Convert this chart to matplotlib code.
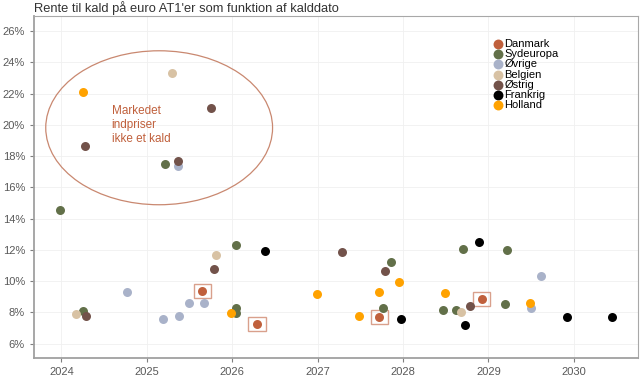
import matplotlib
matplotlib.use("Agg")
import matplotlib.pyplot as plt
from matplotlib.patches import Ellipse, Rectangle

plt.rcParams['font.family'] = ['Liberation Sans', 'DejaVu Sans']

# Data: call date (fractional year) and yield to call (%)
danmark_x = [2025.65, 2026.29, 2027.72, 2028.92]
danmark_y = [9.39, 7.24, 7.69, 8.84]

sydeuropa_x = [2023.99, 2024.25, 2025.21, 2026.04, 2026.04, 2026.04, 2027.86, 2027.77,
               2028.47, 2028.62, 2028.70, 2029.22, 2029.19]
sydeuropa_y = [14.55, 8.09, 17.5, 12.31, 8.3, 7.94, 11.23, 8.3,
               8.13, 8.18, 12.04, 12.0, 8.54]

ovrige_x = [2025.37, 2024.77, 2025.19, 2025.38, 2025.49, 2025.67, 2029.50, 2029.61]
ovrige_y = [17.39, 9.33, 7.6, 7.77, 8.58, 8.62, 8.26, 10.31]

belgien_x = [2025.29, 2024.17, 2025.81, 2028.68]
belgien_y = [23.34, 7.92, 11.67, 8.0]

ostrig_x = [2025.75, 2024.28, 2025.37, 2024.29, 2025.79, 2027.28, 2027.79, 2028.78]
ostrig_y = [21.06, 18.65, 17.67, 7.77, 10.76, 11.89, 10.63, 8.43]

frankrig_x = [2026.38, 2027.97, 2028.72, 2028.89, 2029.92, 2030.44]
frankrig_y = [11.93, 7.6, 7.17, 12.49, 7.73, 7.69]

holland_x = [2024.25, 2025.99, 2026.99, 2027.95, 2027.72, 2027.49, 2028.49, 2029.49]
holland_y = [22.1, 7.94, 9.16, 9.93, 9.29, 7.79, 9.24, 8.6]

series = [
    ("Danmark", danmark_x, danmark_y, "#C0603C"),
    ("Sydeuropa", sydeuropa_x, sydeuropa_y, "#627049"),
    ("Øvrige", ovrige_x, ovrige_y, "#A9B2C9"),
    ("Belgien", belgien_x, belgien_y, "#D8C2A4"),
    ("Østrig", ostrig_x, ostrig_y, "#72524A"),
    ("Frankrig", frankrig_x, frankrig_y, "#000000"),
    ("Holland", holland_x, holland_y, "#FFA200"),
]

x_ticks = [2024, 2025, 2026, 2027, 2028, 2029, 2030]
y_ticks = [6, 8, 10, 12, 14, 16, 18, 20, 22, 24, 26]

fig = plt.figure(figsize=(6.43, 3.78), dpi=100)
ax = fig.add_axes([34/643, 1 - 358/378, (638-34)/643, (358-16)/378])

for name, xs, ys, c in series:
    ax.scatter(xs, ys, s=42, color=c, label=name, zorder=3, linewidths=0)

# boxes around Danmark points
for xv, yv in zip(danmark_x, danmark_y):
    ax.add_patch(Rectangle((xv - 0.1, yv - 0.45), 0.2, 0.9, fill=False,
                           edgecolor="#D9A08C", linewidth=1.0, zorder=2))

ax.add_patch(Ellipse((2025.145, 19.81), 2.655, 9.85, fill=False,
                     edgecolor="#C98870", linewidth=0.9, zorder=2))
ax.text(2024.59, 20.0, "Markedet\nindpriser\nikke et kald", color="#C0603C",
        fontsize=8.5, ha="left", va="center", linespacing=1.25)

ax.set_xlim(2023.68, 2030.75)
ax.set_ylim(5.08, 26.96)
ax.set_xticks(x_ticks)
ax.set_xticklabels([str(t) for t in x_ticks])
ax.set_yticks(y_ticks)
ax.set_yticklabels([f"{t}%" for t in y_ticks])
ax.tick_params(axis="both", colors="#7F7F7F", labelcolor="#595959", labelsize=8,
               length=3, width=0.8)
ax.grid(True, color="#F0F0F0", linewidth=0.6, zorder=0)
ax.set_axisbelow(True)
for s in ["left", "bottom"]:
    ax.spines[s].set_color("#A0A0A0")
    ax.spines[s].set_linewidth(1.3)
for s in ["top", "right"]:
    ax.spines[s].set_color("#A8A8A8")
    ax.spines[s].set_linewidth(0.8)

leg = ax.legend(loc="upper left", bbox_to_anchor=(0.752, 0.946), frameon=False,
                fontsize=8, handletextpad=0.05, labelspacing=0.02,
                borderaxespad=0, handlelength=1.0, markerscale=1.1)

fig.text(34/643, 1 - 8/378, "Rente til kald på euro AT1'er som funktion af kalddato",
         fontsize=9.3, color="#333333", ha="left", va="center")

fig.savefig("out.png", dpi=100)
